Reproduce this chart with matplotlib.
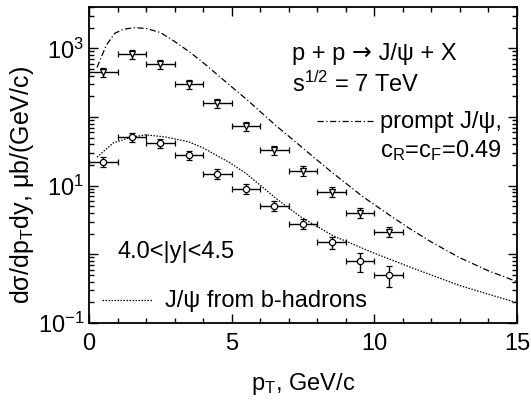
import numpy as np
import matplotlib
matplotlib.use("Agg")
import matplotlib.pyplot as plt
from matplotlib.ticker import LogLocator, MultipleLocator, FuncFormatter
from matplotlib.transforms import offset_copy

plt.rcParams["font.family"] = ["Liberation Sans", "DejaVu Sans"]
plt.rcParams["mathtext.fontset"] = "custom"
plt.rcParams["mathtext.rm"] = "Liberation Sans"
plt.rcParams["mathtext.it"] = "Liberation Sans"
plt.rcParams["mathtext.default"] = "regular"

# measured points, bin centres and half widths
pt_bins = [0.5, 1.5, 2.5, 3.5, 4.5, 5.5, 6.5, 7.5, 8.5, 9.5, 10.5]
pt_halfwidth = [0.5] * 11
prompt_data = [449, 819, 586, 300, 160, 74, 33, 16.5, 8.2, 4.06, 2.15]
prompt_err = [70, 120, 90, 46, 25, 12, 5.2, 2.6, 1.3, 0.7, 0.37]
bhad_data = [22.3, 51, 42, 28, 14.9, 9.05, 5.1, 2.81, 1.49, 0.79, 0.50]
bhad_err = [3.5, 7.5, 6.5, 4.4, 2.4, 1.4, 0.8, 0.45, 0.28, 0.24, 0.17]

# model curves
prompt_curve_x = [0.28, 0.6, 0.9, 1.2, 1.6, 2.0, 2.5, 3.0, 3.55, 4.0, 4.6, 5.0, 5.54,
                  6.0, 6.6, 7.0, 7.86, 8.5, 9.6, 10.5, 11.26, 12.0, 13.0, 14.0, 15.0]
prompt_curve_y = [525, 1100, 1650, 1900, 2000, 1950, 1700, 1260, 870, 620, 380, 275, 178,
                  120, 72, 52.5, 26.3, 15.8, 6.9, 3.8, 2.34, 1.51, 0.89, 0.575, 0.40]
bhad_curve_x = [0.28, 0.85, 1.5, 2.0, 2.7, 3.5, 4.0, 4.95, 5.5, 6.6, 7.4, 8.56,
                9.97, 11.26, 13.0, 14.95]
bhad_curve_y = [26, 42, 51, 55, 51, 43.5, 35.5, 21.4, 15.1, 6.3, 3.55, 1.86,
                1.05, 0.65, 0.35, 0.2]

W, H = 531, 401
fig = plt.figure(figsize=(W / 100, H / 100), dpi=100)
ax = fig.add_axes([89 / W, 1 - 323 / H, (517 - 89) / W, (323 - 7) / H])

ax.plot(prompt_curve_x, prompt_curve_y, color="black", lw=0.9, dashes=(5, 2, 1, 2))
ax.plot(bhad_curve_x, bhad_curve_y, color="black", lw=0.9, dashes=(1.2, 1.2))

ax.errorbar(pt_bins, prompt_data, xerr=pt_halfwidth, yerr=prompt_err, fmt="v",
            mfc="white", mec="black", ms=5, mew=0.9, ecolor="black", elinewidth=1.0,
            capsize=2.5, capthick=1.0)
ax.errorbar(pt_bins, bhad_data, xerr=pt_halfwidth, yerr=bhad_err, fmt="o",
            mfc="white", mec="black", ms=4.5, mew=0.9, ecolor="black", elinewidth=1.0,
            capsize=2.5, capthick=1.0)

ax.set_yscale("log")
ax.set_xlim(0, 15)
ax.set_ylim(0.1, 4000)
ax.xaxis.set_major_locator(MultipleLocator(5))
ax.xaxis.set_minor_locator(MultipleLocator(1))
ax.yaxis.set_major_locator(LogLocator(base=10, numticks=20))
ax.yaxis.set_minor_locator(LogLocator(base=10, subs=np.arange(2, 10), numticks=20))


def ylab(v, pos):
    e = int(round(np.log10(v)))
    if e % 2 == 1 or e == -1:
        return r"$10^{%d}$" % e
    return ""


ax.yaxis.set_major_formatter(FuncFormatter(ylab))
ax.tick_params(which="both", direction="in", top=True, right=True, labelsize=17, width=1.0)
ax.tick_params(which="major", length=6.5)
ax.tick_params(which="minor", length=3.5)
ax.tick_params(axis="x", pad=7)
for s in ax.spines.values():
    s.set_linewidth(1.3)

ax.set_xlabel(r"p$_T$, GeV/c", fontsize=17, labelpad=12)
ax.set_ylabel(r"dσ/dp$_T$dy, μb/(GeV/c)", fontsize=18)
ax.yaxis.set_label_coords((36 - 89) / 428, (323 - 185) / 316)

fs = 17
# reaction line: wider arrow glyph taken from DejaVu Sans
renderer = fig.canvas.get_renderer()
t1 = fig.text(292 / W, 1 - 60 / H, "p + p ", fontsize=fs, va="baseline")
w1 = t1.get_window_extent(renderer).width
t2 = fig.text(292 / W, 1 - 60 / H, "→", fontsize=fs, va="baseline", family="DejaVu Sans",
              transform=offset_copy(fig.transFigure, fig=fig, x=w1, y=0, units="dots"))
w2 = t2.get_window_extent(renderer).width
fig.text(292 / W, 1 - 60 / H, " J/ψ + X", fontsize=fs, va="baseline",
         transform=offset_copy(fig.transFigure, fig=fig, x=w1 + w2, y=0, units="dots"))

fig.text(292 / W, 1 - 92 / H, r"s$^{1/2}$ = 7 TeV", fontsize=fs, va="baseline")
fig.text(380 / W, 1 - 128 / H, "prompt J/ψ,", fontsize=fs, va="baseline")
fig.text(380 / W, 1 - 157 / H, r"c$_R$=c$_F$=0.49", fontsize=fs, va="baseline")
fig.text(118 / W, 1 - 258 / H, "4.0<|y|<4.5", fontsize=fs, va="baseline")
fig.text(165 / W, 1 - 307 / H, "J/ψ from b-hadrons", fontsize=fs, va="baseline")
fig.add_artist(plt.Line2D([317 / W, 373 / W], [1 - 121 / H, 1 - 121 / H], color="black",
                          lw=0.9, dashes=(5, 2, 1, 2)))
fig.add_artist(plt.Line2D([102 / W, 153 / W], [1 - 300 / H, 1 - 300 / H], color="black",
                          lw=0.9, dashes=(1.2, 1.2)))

fig.savefig("out.png", dpi=100)
